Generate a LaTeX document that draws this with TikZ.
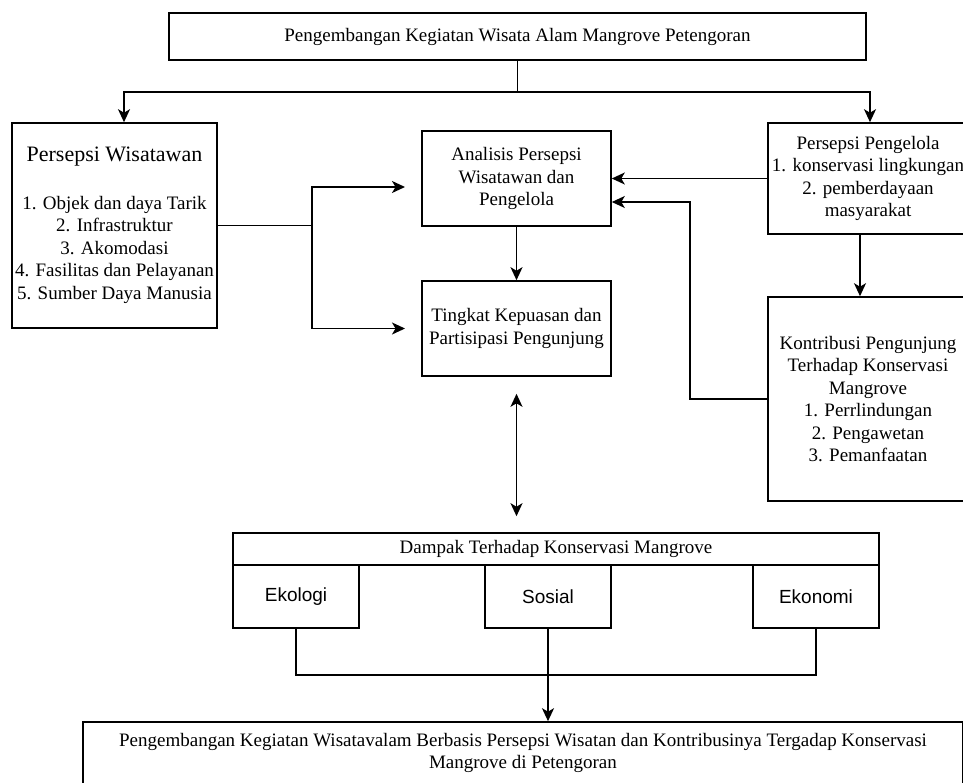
\documentclass[tikz,border=0pt]{standalone}
\usepackage{fontspec}
\setmainfont{Liberation Serif}
\newfontfamily\arialfont{Liberation Sans}
\usetikzlibrary{arrows.meta,calc}

\begin{document}
\begin{tikzpicture}[
  x=1pt, y=-1pt,
  box/.style={draw, line width=1.6pt, inner sep=2pt, align=center,
              font=\fontsize{19}{22.5}\selectfont},
  sbox/.style={box, font=\arialfont\fontsize{19}{22.5}\selectfont},
  arr/.style={-{Stealth[length=13pt, width=12pt, inset=3.5pt]}, line width=1.6pt},
  darr/.style={{Stealth[length=13pt, width=12pt, inset=3.5pt]}-{Stealth[length=13pt, width=12pt, inset=3.5pt]},
               line width=1.6pt},
  line/.style={line width=1.6pt},
]
\useasboundingbox (0,0) rectangle (963,782);

% top
\node[box, minimum width=697, minimum height=47] (top) at (517.5,36.5)
  {Pengembangan Kegiatan Wisata Alam Mangrove Petengoran};

% left, middle and right column
\node[box, minimum width=205, minimum height=205] (wis) at (114.5,225.5)
  {{\fontsize{22}{26}\selectfont Persepsi Wisatawan}\\[25pt]
   1. Objek dan daya Tarik\\2. Infrastruktur\\3. Akomodasi\\
   4. Fasilitas dan Pelayanan\\5. Sumber Daya Manusia};
\node[box, minimum width=189, minimum height=95] (ana) at (516.5,178.5)
  {Analisis Persepsi\\Wisatawan dan\\Pengelola};
\node[box, minimum width=189, minimum height=95] (ting) at (516.5,328.5)
  {Tingkat Kepuasan dan\\Partisipasi Pengunjung};
\node[box, minimum width=200, minimum height=111] (peng) at (868,178.5)
  {Persepsi Pengelola\\1. konservasi lingkungan\\2. pemberdayaan\\masyarakat};
\node[box, minimum width=200, minimum height=204] (kon) at (868,399)
  {Kontribusi Pengunjung\\Terhadap Konservasi\\Mangrove\\1. Perrlindungan\\
   2. Pengawetan\\3. Pemanfaatan};

% impact block
\node[box, minimum width=646, minimum height=32] (damp) at (556,549)
  {Dampak Terhadap Konservasi Mangrove};
\node[sbox, minimum width=126, minimum height=63] (eko) at (296,596.5) {Ekologi};
\node[sbox, minimum width=126, minimum height=63] (sos) at (548,596.5) {Sosial};
\node[sbox, minimum width=126, minimum height=63] (ekn) at (816,596.5) {Ekonomi};

% bottom
\node[box, minimum width=880, minimum height=62] (bot) at (523,753)
  {Pengembangan Kegiatan Wisatavalam Berbasis Persepsi Wisatan dan Kontribusinya Tergadap Konservasi\\
   Mangrove di Petengoran};

% junction points
\coordinate (split) at (517.5,92);
\coordinate (jl) at (312,225.5);
\coordinate (inA) at (405,187);
\coordinate (inT) at (405,328.5);
\coordinate (kb) at (690,202);
\coordinate (jb) at (548,675);

\draw[line] (top.south) -- (split);
\draw[arr] (split) -| ([xshift=9.5pt]wis.north);
\draw[arr] (split) -| ([xshift=2pt]peng.north);

\draw[line] (wis.east) -- (jl);
\draw[arr] (jl) |- (inA);
\draw[arr] (jl) |- (inT);

\draw[arr] (peng.west) -- (ana.east);
\draw[arr] (kon.west) -| (kb) -- (ana.east |- kb);
\draw[arr] ([xshift=-8pt]peng.south) -- ([xshift=-8pt]kon.north);
\draw[arr] (ana.south) -- (ting.north);

\draw[darr, shorten <=17pt, shorten >=16pt] (ting.south) -- (ting.south |- damp.north);

\draw[line] (eko.south) |- (jb) -| (ekn.south);
\draw[arr, line width=2.2pt] (sos.south) -- (sos.south |- bot.north);
\end{tikzpicture}
\end{document}
